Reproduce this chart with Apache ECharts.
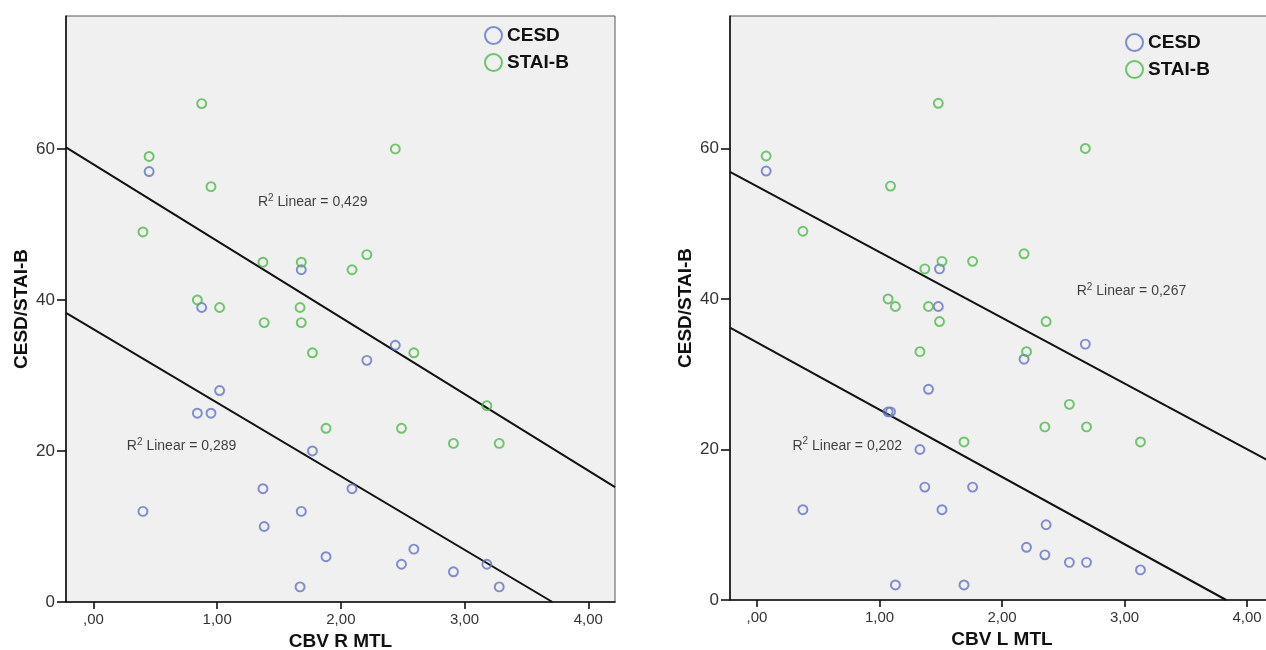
<!DOCTYPE html>
<html>
<head>
<meta charset="utf-8">
<script src="https://cdn.jsdelivr.net/npm/echarts@6/dist/echarts.min.js"></script>
<style>
html, body { margin: 0; padding: 0; background: #ffffff; }
#chart { width: 1266px; height: 650px; }
</style>
</head>
<body>
<div id="chart"></div>
<script>
// ---- Data ----
const seriesNames = ['CESD', 'STAI-B'];
const xTickValues = [0, 1, 2, 3, 4];
const yTickValues = [0, 20, 40, 60];

// Left panel: CBV R MTL
const leftCesdX = [0.40, 0.45, 0.84, 0.875, 0.95, 1.02, 1.37, 1.38, 1.67, 1.68, 1.68, 1.77, 1.88, 2.09, 2.21, 2.44, 2.49, 2.59, 2.91, 3.18, 3.28];
const leftCesdY = [12, 57, 25, 39, 25, 28, 15, 10, 2, 44, 12, 20, 6, 15, 32, 34, 5, 7, 4, 5, 2];
const leftStaiX = [0.40, 0.45, 0.84, 0.875, 0.95, 1.02, 1.37, 1.38, 1.67, 1.68, 1.68, 1.77, 1.88, 2.09, 2.21, 2.44, 2.49, 2.59, 2.91, 3.18, 3.28];
const leftStaiY = [49, 59, 40, 66, 55, 39, 45, 37, 39, 45, 37, 33, 23, 44, 46, 60, 23, 33, 21, 26, 21];
const leftFitStai = [[-0.222, 60.2], [4.216, 15.2]];
const leftFitCesd = [[-0.222, 38.3], [3.71, 0]];
const leftR2Text = ['0,429', '0,289'];
const leftR2At = [[1.33, 52.9], [0.27, 20.6]];

// Right panel: CBV L MTL
const rightCesdX = [0.075, 1.49, 1.48, 2.68, 2.18, 1.40, 1.07, 1.09, 1.33, 1.37, 1.76, 0.375, 1.51, 2.36, 2.20, 2.35, 2.55, 2.69, 3.13, 1.13, 1.69];
const rightCesdY = [57, 44, 39, 34, 32, 28, 25, 25, 20, 15, 15, 12, 12, 10, 7, 6, 5, 5, 4, 2, 2];
const rightStaiX = [1.48, 0.075, 2.68, 1.09, 0.375, 2.18, 1.51, 1.76, 1.37, 1.07, 1.13, 1.40, 1.49, 2.36, 1.33, 2.20, 2.55, 2.35, 2.69, 1.69, 3.13];
const rightStaiY = [66, 59, 60, 55, 49, 46, 45, 45, 44, 40, 39, 39, 37, 37, 33, 33, 26, 23, 23, 21, 21];
const rightFitStai = [[-0.22, 56.9], [4.22, 18.1]];
const rightFitCesd = [[-0.22, 36.2], [3.83, 0]];
const rightR2Text = ['0,267', '0,202'];
const rightR2At = [[2.61, 41.0], [0.29, 20.5]];

const xTitles = ['CBV R MTL', 'CBV L MTL'];
const yTitle = 'CESD/STAI-B';

// ---- Styling ----
const BLUE = '#6272c6';
const GREEN = '#4db94a';
const FONT = "'Liberation Sans', Arial, sans-serif";

function zip(xs, ys) { return xs.map((x, i) => [x, ys[i]]); }
function fmtX(v) { return v.toFixed(2).replace('.', ',').replace(/^0,/, ','); }

function xAxisFor(gi, title, min, max) {
  return {
    type: 'value', gridIndex: gi, min: min, max: max,
    name: title, nameLocation: 'middle', nameGap: 23,
    nameTextStyle: { fontFamily: FONT, fontWeight: 'bold', fontSize: 19, color: '#111' },
    axisLine: { show: true, onZero: false, lineStyle: { color: '#111', width: 1.6 } },
    axisTick: { show: true, length: 7, customValues: xTickValues, lineStyle: { color: '#111', width: 1.6 } },
    axisLabel: { customValues: xTickValues, formatter: fmtX, margin: 10, fontFamily: FONT, fontSize: 15, color: '#333' },
    splitLine: { show: false }
  };
}
function yAxisFor(gi) {
  return {
    type: 'value', gridIndex: gi, min: 0, max: 77.6,
    name: yTitle, nameLocation: 'middle', nameGap: 35,
    nameTextStyle: { fontFamily: FONT, fontWeight: 'bold', fontSize: 19, color: '#111' },
    axisLine: { show: true, onZero: false, lineStyle: { color: '#111', width: 1.6 } },
    axisTick: { show: true, length: 9, customValues: yTickValues, lineStyle: { color: '#111', width: 1.6 } },
    axisLabel: { customValues: yTickValues, margin: 11, fontFamily: FONT, fontSize: 17, color: '#333' },
    splitLine: { show: false }
  };
}
function scatter(name, color, data, gi) {
  return {
    type: 'scatter', name: name, xAxisIndex: gi, yAxisIndex: gi, data: data,
    symbol: 'circle', symbolSize: 9,
    itemStyle: { color: 'rgba(0,0,0,0)', borderColor: color, borderWidth: 1.9 },
    emphasis: { disabled: true }, z: 3
  };
}
function fitLine(data, gi) {
  return {
    type: 'line', name: 'fit', xAxisIndex: gi, yAxisIndex: gi, data: data,
    symbol: 'none', clip: true, silent: true,
    lineStyle: { color: '#111', width: 2 }, z: 2
  };
}
function r2Labels(texts, at, gi) {
  return {
    type: 'scatter', name: 'r2', xAxisIndex: gi, yAxisIndex: gi, silent: true,
    symbolSize: 0,
    data: at.map((p, i) => ({ value: p, r2: texts[i] })),
    label: {
      show: true, position: 'right', distance: 0,
      formatter: p => 'R{sup|2} Linear = ' + p.data.r2,
      fontFamily: FONT, fontSize: 14, color: '#111',
      rich: { sup: { fontFamily: FONT, fontSize: 10, color: '#111', verticalAlign: 'top', padding: [0, 0, 8, 0] } }
    }, z: 4
  };
}
function legendAt(left, top) {
  return {
    data: seriesNames, orient: 'vertical', left: left, top: top,
    itemWidth: 17, itemHeight: 17, itemGap: 6, selectedMode: false,
    textStyle: { fontFamily: FONT, fontWeight: 'bold', fontSize: 19, color: '#111', lineHeight: 21 }
  };
}

const chart = echarts.init(document.getElementById('chart'), null, { renderer: 'canvas' });
chart.setOption({
  backgroundColor: '#ffffff',
  animation: false,
  grid: [
    { left: 66, top: 16, width: 549, height: 586, outerBoundsMode: 'none', containLabel: false, show: true, backgroundColor: '#f0f0f0', borderColor: '#555', borderWidth: 1 },
    { left: 730, top: 16, width: 544, height: 584, outerBoundsMode: 'none', containLabel: false, show: true, backgroundColor: '#f0f0f0', borderColor: '#555', borderWidth: 1 }
  ],
  xAxis: [xAxisFor(0, xTitles[0], -0.222, 4.216), xAxisFor(1, xTitles[1], -0.22, 4.22)],
  yAxis: [yAxisFor(0), yAxisFor(1)],
  legend: [legendAt(479, 20), legendAt(1120, 27)],
  series: [
    fitLine(leftFitStai, 0), fitLine(leftFitCesd, 0),
    scatter('CESD', BLUE, zip(leftCesdX, leftCesdY), 0),
    scatter('STAI-B', GREEN, zip(leftStaiX, leftStaiY), 0),
    r2Labels(leftR2Text, leftR2At, 0),
    fitLine(rightFitStai, 1), fitLine(rightFitCesd, 1),
    scatter('CESD', BLUE, zip(rightCesdX, rightCesdY), 1),
    scatter('STAI-B', GREEN, zip(rightStaiX, rightStaiY), 1),
    r2Labels(rightR2Text, rightR2At, 1)
  ]
});
</script>
</body>
</html>
